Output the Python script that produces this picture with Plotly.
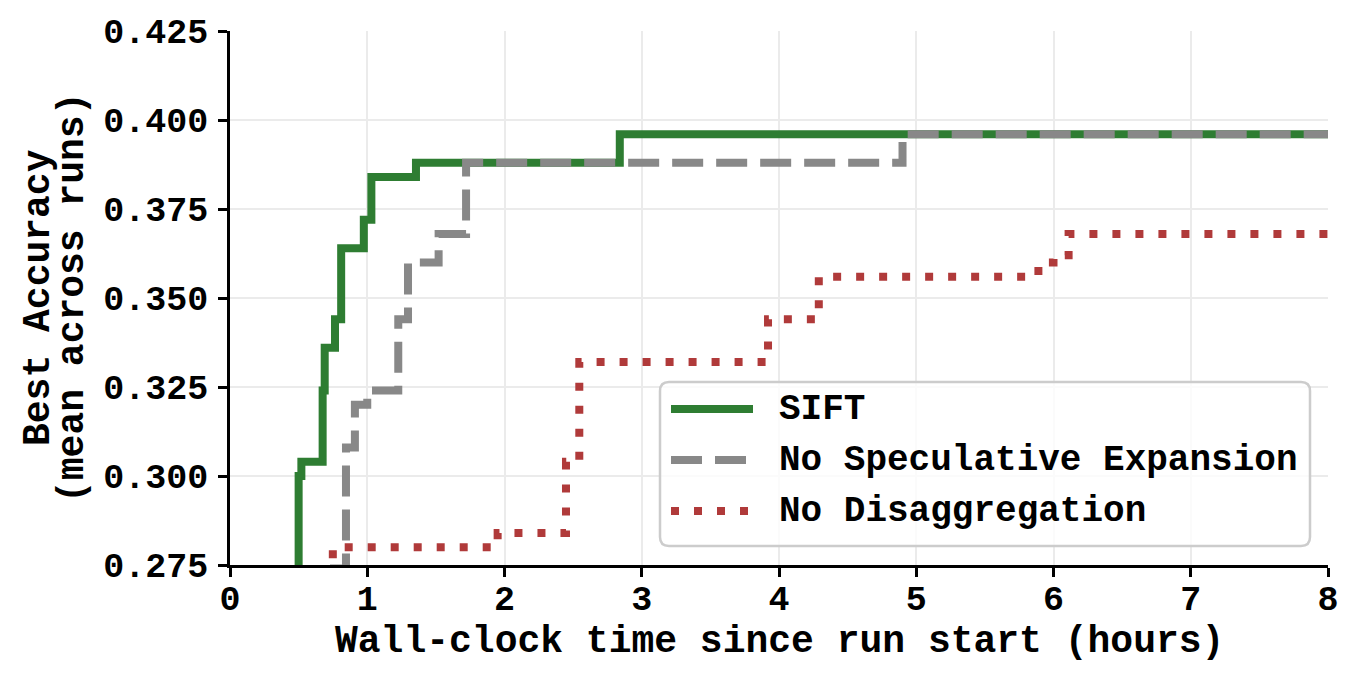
import plotly.graph_objects as go

# step curves (hours, best accuracy averaged across runs)
sift_t = [0.50, 0.50, 0.52, 0.675, 0.69, 0.765, 0.81, 0.975, 1.03, 1.355, 2.84, 8.0]
sift_acc = [0.260, 0.300, 0.304, 0.324, 0.336, 0.344, 0.364, 0.372, 0.384, 0.388, 0.396, 0.396]

spec_t = [0.71, 0.71, 0.845, 0.91, 1.00, 1.226, 1.297, 1.52, 1.72, 4.90, 8.0]
spec_acc = [0.250, 0.274, 0.308, 0.320, 0.324, 0.344, 0.360, 0.368, 0.388, 0.396, 0.396]

disagg_t = [0.72, 0.78, 1.95, 2.448, 2.545, 3.92, 4.29, 5.89, 6.00, 6.11, 8.0]
disagg_acc = [0.278, 0.280, 0.284, 0.304, 0.332, 0.344, 0.356, 0.360, 0.362, 0.368, 0.368]

names = ["SIFT", "No Speculative Expansion", "No Disaggregation"]
colors = ["#2e7d32", "#888888", "#b03a3a"]
dashes = ["solid", "31px,13px", "8px,15px"]

x_ticks = [0, 1, 2, 3, 4, 5, 6, 7, 8]
y_ticks = [0.275, 0.300, 0.325, 0.350, 0.375, 0.400, 0.425]

FONT = "Liberation Mono, Courier New, monospace"
OFF = 8  # page body margin
W, H = 1358 - OFF, 680 - OFF
L, R, T, B = 230 - OFF, 30, 31 - OFF, 115
pw, ph = W - L - R, H - T - B

fig = go.Figure()
for t, acc, name, c, d in zip([sift_t, spec_t, disagg_t],
                              [sift_acc, spec_acc, disagg_acc],
                              names, colors, dashes):
    fig.add_trace(go.Scatter(x=t, y=acc, mode="lines", name=name,
                             line=dict(color=c, width=8, dash=d, shape="hv"),
                             showlegend=False))


def px(x, y):
    # screen pixel -> paper coords
    return (x - OFF - L) / pw, (H - B - (y - OFF)) / ph


# hand drawn legend with rounded box
x0, y0 = px(660, 546)
x1, y1 = px(1310, 382)
rx, ry = 9 / pw, 9 / ph
path = (f"M{x0+rx},{y0} L{x1-rx},{y0} Q{x1},{y0} {x1},{y0+ry} "
        f"L{x1},{y1-ry} Q{x1},{y1} {x1-rx},{y1} L{x0+rx},{y1} "
        f"Q{x0},{y1} {x0},{y1-ry} L{x0},{y0+ry} Q{x0},{y0} {x0+rx},{y0} Z")
shapes = [dict(type="path", path=path, xref="paper", yref="paper",
               fillcolor="rgba(255,255,255,0.8)",
               line=dict(color="#cccccc", width=2.5), layer="above")]
annotations = []
for i, (name, c, d) in enumerate(zip(names, colors, dashes)):
    yc = 409 + 51 * i
    ax0, ay = px(671, yc)
    ax1, _ = px(753, yc)
    shapes.append(dict(type="line", xref="paper", yref="paper",
                       x0=ax0, x1=ax1, y0=ay, y1=ay, layer="above",
                       line=dict(color=c, width=8, dash=d)))
    tx, _ = px(777, yc)
    annotations.append(dict(text=name, xref="paper", yref="paper", x=tx, y=ay,
                            xanchor="left", yanchor="middle", showarrow=False,
                            font=dict(family=FONT, size=36, color="black", weight="bold")))

annotations.append(dict(text="Wall-clock time since run start (hours)",
                        xref="paper", yref="paper", x=0.5, y=px(0, 641)[1],
                        xanchor="center", yanchor="middle", showarrow=False,
                        font=dict(family=FONT, size=38, color="black", weight="bold")))
for txt, xc in [("Best Accuracy", 38), ("(mean across runs)", 72)]:
    annotations.append(dict(text=txt, xref="paper", yref="paper", x=px(xc, 0)[0], y=0.5,
                            xanchor="center", yanchor="middle", textangle=-90,
                            showarrow=False,
                            font=dict(family=FONT, size=38, color="black", weight="bold")))

axis_common = dict(showline=True, linecolor="black", linewidth=2.5,
                   ticks="outside", ticklen=9, tickwidth=2.5, tickcolor="black",
                   showgrid=True, gridcolor="#ebebeb", gridwidth=1.5,
                   zeroline=False, mirror=False, automargin=False,
                   tickfont=dict(family=FONT, size=35, color="black", weight="bold"))

fig.update_layout(
    width=W, height=H,
    margin=dict(l=L, r=R, t=T, b=B),
    plot_bgcolor="white", paper_bgcolor="white",
    xaxis=dict(range=[0, 8], tickvals=x_ticks, ticktext=[str(v) for v in x_ticks],
               ticklabelstandoff=-9, **axis_common),
    yaxis=dict(range=[0.275, 0.425], tickvals=y_ticks,
               ticktext=[f"{v:.3f}" for v in y_ticks],
               ticklabelstandoff=3, **axis_common),
    shapes=shapes,
    annotations=annotations,
)

fig.write_html("out.html")
